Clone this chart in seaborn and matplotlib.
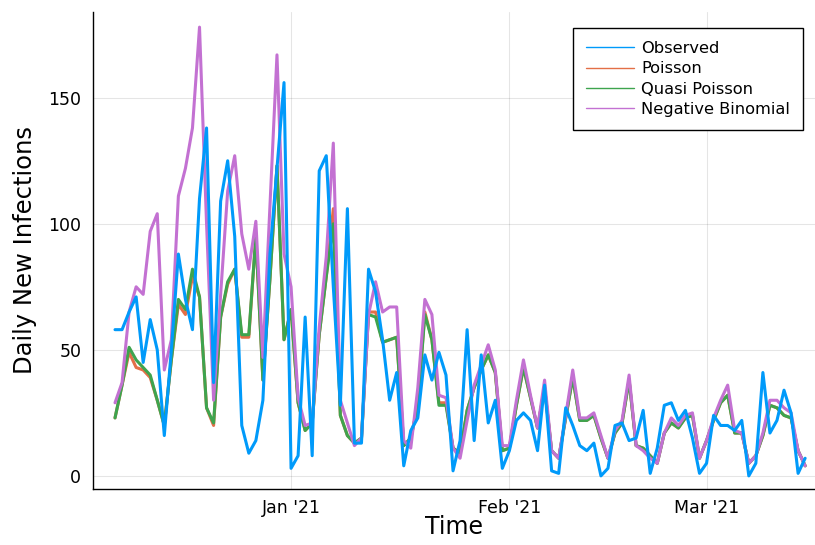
import pandas as pd
import matplotlib.pyplot as plt
from matplotlib.lines import Line2D
import seaborn as sns

# Configuración visual (estilo similar a Plots.jl / GR)
sns.set_theme(style="white")
plt.rcParams['font.family'] = ['DejaVu Sans']
plt.rcParams['text.color'] = 'black'
plt.rcParams['axes.labelcolor'] = 'black'

# Datos: 99 días desde el 7 de diciembre de 2020
start_date = '2020-12-07'
n_days = 99

observed = [58, 58, 65, 71, 45, 62, 50, 16, 50, 88,
            70, 58, 110, 138, 37, 109, 125, 95, 20, 9,
            14, 30, 88, 122, 156, 3, 8, 63, 8, 121,
            127, 75, 28, 106, 13, 13, 82, 73, 54, 30,
            41, 4, 18, 23, 48, 38, 49, 40, 2, 14,
            58, 14, 48, 21, 30, 3, 10, 22, 25, 22,
            10, 36, 2, 1, 27, 20, 12, 10, 13, 0,
            3, 20, 21, 14, 15, 26, 1, 11, 28, 29,
            22, 26, 15, 1, 5, 24, 20, 20, 18, 22,
            0, 5, 41, 17, 22, 34, 25, 1, 7]

poisson = [23, 36, 49, 43, 42, 39, 30, 20, 46, 68,
           64, 79, 71, 27, 20, 63, 76, 82, 55, 55,
           95, 38, 78, 123, 54, 66, 29, 18, 21, 56,
           79, 106, 24, 16, 13, 15, 65, 65, 53, 54,
           55, 12, 15, 28, 65, 54, 29, 29, 11, 9,
           26, 35, 42, 48, 41, 10, 11, 28, 43, 31,
           19, 35, 10, 7, 23, 39, 22, 22, 24, 15,
           7, 17, 21, 38, 12, 11, 8, 5, 17, 21,
           19, 23, 24, 7, 14, 22, 29, 32, 17, 17,
           5, 8, 16, 28, 27, 24, 23, 10, 4]

quasi_poisson = [23, 36, 51, 46, 43, 40, 30, 20, 46, 70,
                 66, 82, 71, 27, 21, 63, 77, 82, 56, 56,
                 95, 38, 78, 123, 54, 66, 29, 18, 21, 56,
                 79, 100, 24, 16, 13, 15, 64, 63, 53, 54,
                 55, 12, 15, 28, 64, 54, 28, 28, 11, 9,
                 26, 35, 42, 48, 41, 10, 11, 28, 43, 31,
                 19, 35, 10, 7, 23, 39, 22, 22, 24, 15,
                 7, 17, 21, 38, 12, 11, 8, 5, 17, 21,
                 19, 23, 24, 7, 14, 22, 29, 32, 17, 17,
                 5, 8, 16, 28, 27, 24, 23, 10, 4]

neg_binomial = [29, 37, 65, 75, 72, 97, 104, 42, 54, 111,
                122, 138, 178, 100, 30, 72, 113, 127, 96, 82,
                101, 47, 107, 167, 88, 75, 31, 20, 21, 59,
                87, 132, 30, 21, 12, 15, 64, 77, 65, 67,
                67, 14, 11, 35, 70, 64, 32, 31, 11, 7,
                22, 36, 44, 52, 42, 12, 12, 30, 46, 32,
                19, 38, 10, 7, 24, 42, 23, 23, 25, 16,
                7, 18, 22, 40, 12, 10, 7, 5, 17, 23,
                20, 24, 25, 7, 14, 23, 30, 36, 18, 17,
                5, 8, 17, 30, 30, 27, 25, 10, 4]

series_names = ['Observed', 'Poisson', 'Quasi Poisson', 'Negative Binomial']
series_colors = ['#009AFA', '#E36F47', '#3EA44E', '#C371D2']
tick_dates = ['2021-01-01', '2021-02-01', '2021-03-01']
tick_labels = ["Jan '21", "Feb '21", "Mar '21"]


def build_frame():
    dates = pd.date_range(start_date, periods=n_days, freq='D')
    return pd.DataFrame({
        'Time': dates,
        'Observed': observed,
        'Poisson': poisson,
        'Quasi Poisson': quasi_poisson,
        'Negative Binomial': neg_binomial,
    })


def generate_plot():
    df = build_frame()

    fig = plt.figure(figsize=(8.15, 5.45), dpi=100)
    ax = fig.add_axes([93 / 815, 56 / 545, 722 / 815, 477 / 545])

    # Orden de dibujo: modelos debajo, observado encima
    zorders = {'Observed': 5, 'Poisson': 2, 'Quasi Poisson': 3, 'Negative Binomial': 4}
    for name, color in zip(series_names, series_colors):
        sns.lineplot(data=df, x='Time', y=name, ax=ax, color=color,
                     linewidth=2.2, zorder=zorders[name], legend=False)

    # Límites de ejes
    t0 = df['Time'].iloc[0]
    ax.set_xlim(t0 - pd.Timedelta(days=3.125), t0 + pd.Timedelta(days=99.4))
    ax.set_ylim(-5.2, 184)

    ax.set_xticks(pd.to_datetime(tick_dates))
    ax.set_xticklabels(tick_labels)
    ax.set_yticks([0, 50, 100, 150])

    ax.tick_params(axis='both', direction='in', length=4, width=1,
                   labelsize=12.5, colors='black', pad=8.5)
    ax.tick_params(axis='x', pad=7.5)
    ax.grid(True, color='black', alpha=0.1, linewidth=0.8)

    for side in ['top', 'right']:
        ax.spines[side].set_visible(False)
    for side in ['left', 'bottom']:
        ax.spines[side].set_color('black')
        ax.spines[side].set_linewidth(1)

    ax.set_xlabel('Time', fontsize=17, labelpad=-1.5)
    ax.set_ylabel('Daily New Infections', fontsize=17.5, labelpad=8)

    # Leyenda con líneas delgadas
    handles = [Line2D([0], [0], color=c, linewidth=1) for c in series_colors]
    leg = ax.legend(handles, series_names, loc='upper right',
                    bbox_to_anchor=(0.9834, 0.9665), borderaxespad=0,
                    fontsize=11.7, frameon=True, fancybox=False,
                    edgecolor='black', framealpha=1, handlelength=2.95,
                    handletextpad=0.47, borderpad=0.8, labelspacing=0.33)
    leg.get_frame().set_linewidth(1)

    fig.savefig('out.png', dpi=100)
    print("Generated out.png")


if __name__ == "__main__":
    generate_plot()
